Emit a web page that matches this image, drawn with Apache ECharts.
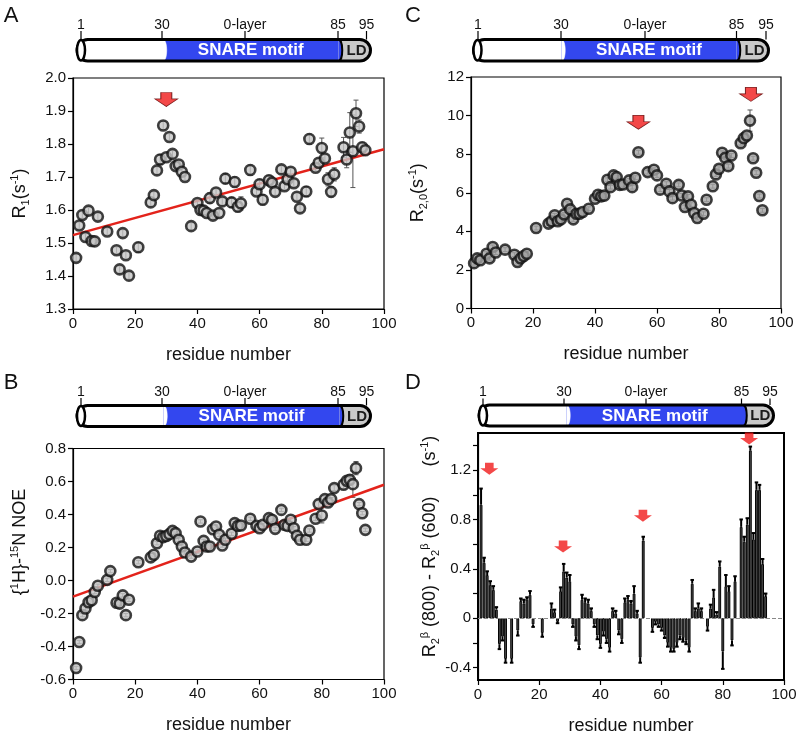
<!DOCTYPE html>
<html><head><meta charset="utf-8">
<script src="https://cdn.jsdelivr.net/npm/echarts@6/dist/echarts.min.js"></script>
<style>html,body{margin:0;padding:0;background:#fff}#c{width:802px;height:740px}</style>
</head><body><div id="c"></div>
<script>
// ---------- DATA ----------
const resA = [1,2,3,4,5,6,7,8,11,14,15,16,17,18,21,25,26,27,28,29,30,31,32,33,34,35,36,38,40,41,42,43,44,45,46,47,48,49,51,52,53,54,57,59,60,61,63,64,65,67,68,69,70,71,72,73,75,76,78,79,80,81,82,83,84,87,88,89,90,91,92,93,94];
const r1 = [1.455,1.553,1.585,1.518,1.598,1.506,1.505,1.58,1.535,1.478,1.42,1.53,1.463,1.401,1.487,1.623,1.645,1.72,1.753,1.856,1.76,1.821,1.77,1.733,1.738,1.716,1.70,1.551,1.621,1.60,1.598,1.591,1.636,1.583,1.653,1.591,1.626,1.695,1.623,1.685,1.61,1.62,1.721,1.656,1.678,1.631,1.69,1.683,1.655,1.723,1.672,1.693,1.716,1.681,1.64,1.605,1.656,1.815,1.728,1.743,1.788,1.756,1.693,1.655,1.708,1.79,1.753,1.835,1.778,1.893,1.853,1.79,1.781];
const errA = [0.01,0.01,0.01,0.01,0.01,0.01,0.01,0.01,0.01,0.01,0.01,0.01,0.01,0.01,0.015,0.01,0.01,0.01,0.015,0.012,0.01,0.01,0.01,0.01,0.01,0.01,0.01,0.01,0.01,0.01,0.01,0.01,0.015,0.01,0.01,0.01,0.01,0.015,0.015,0.015,0.015,0.02,0.015,0.01,0.015,0.015,0.015,0.01,0.01,0.01,0.01,0.01,0.01,0.01,0.01,0.01,0.015,0.015,0.01,0.01,0.03,0.01,0.02,0.015,0.02,0.03,0.025,0.06,0.11,0.04,0.02,0.015,0.01];
const fitA = [[0,1.524],[100,1.784]];

const resB = [1,2,3,4,5,6,7,8,11,12,14,15,16,17,18,21,25,26,27,28,29,30,31,32,33,34,35,36,38,40,41,42,43,44,45,46,47,48,49,51,52,53,54,57,59,60,61,63,64,65,67,68,69,70,71,72,73,75,76,78,79,80,81,82,83,84,87,88,89,90,91,92,93,94];
const noe = [-0.53,-0.373,-0.21,-0.17,-0.132,-0.12,-0.07,-0.032,0.004,0.057,-0.135,-0.14,-0.09,-0.21,-0.117,0.111,0.14,0.156,0.226,0.271,0.263,0.27,0.281,0.301,0.287,0.247,0.206,0.17,0.145,0.176,0.358,0.24,0.206,0.206,0.311,0.327,0.277,0.212,0.247,0.283,0.348,0.331,0.333,0.374,0.331,0.317,0.337,0.378,0.368,0.313,0.428,0.337,0.331,0.368,0.317,0.271,0.247,0.247,0.303,0.374,0.463,0.394,0.493,0.473,0.493,0.56,0.58,0.604,0.61,0.584,0.681,0.463,0.408,0.307];
const errB = [0.01,0.01,0.01,0.01,0.01,0.01,0.01,0.01,0.01,0.01,0.01,0.01,0.01,0.01,0.01,0.01,0.01,0.01,0.01,0.01,0.01,0.01,0.01,0.01,0.01,0.01,0.01,0.01,0.01,0.01,0.01,0.01,0.01,0.01,0.01,0.01,0.01,0.01,0.01,0.01,0.01,0.01,0.01,0.01,0.01,0.01,0.01,0.01,0.01,0.01,0.01,0.01,0.01,0.01,0.01,0.01,0.01,0.01,0.01,0.01,0.02,0.045,0.015,0.02,0.01,0.015,0.025,0.02,0.03,0.08,0.04,0.01,0.01,0.01];
const fitB = [[0,-0.098],[100,0.58]];

const resC = [1,2,3,5,6,7,8,11,14,15,16,17,18,21,25,26,27,28,29,30,31,32,33,34,35,36,38,40,41,42,43,44,45,46,47,48,49,51,52,53,54,57,59,60,61,63,64,65,67,68,69,70,71,72,73,75,76,78,79,80,81,82,83,84,87,88,89,90,91,92,93,94];
const r20 = [2.35,2.6,2.5,2.84,2.6,3.19,2.9,3.05,2.79,2.41,2.6,2.72,2.84,4.17,4.4,4.52,4.83,4.52,4.62,4.88,5.43,5.14,4.62,4.91,4.91,5.0,5.17,5.69,5.9,5.81,5.85,6.67,6.29,6.9,6.81,6.41,6.43,6.64,6.29,6.78,8.1,7.07,7.19,6.9,6.16,6.47,6.07,5.72,6.41,5.86,5.26,5.81,5.38,4.95,4.69,4.91,5.64,6.34,6.95,7.24,8.07,7.81,7.38,7.93,8.57,8.83,8.97,9.74,7.79,7.04,5.83,5.09];
const errC = [0.1,0.1,0.1,0.1,0.1,0.1,0.1,0.1,0.1,0.1,0.1,0.1,0.1,0.1,0.1,0.1,0.1,0.1,0.1,0.1,0.1,0.1,0.1,0.1,0.1,0.1,0.1,0.1,0.1,0.1,0.1,0.1,0.1,0.1,0.1,0.1,0.1,0.1,0.1,0.1,0.1,0.1,0.1,0.1,0.1,0.1,0.1,0.1,0.1,0.1,0.1,0.1,0.1,0.1,0.1,0.1,0.1,0.1,0.1,0.1,0.1,0.1,0.1,0.1,0.1,0.12,0.15,0.55,0.1,0.1,0.1,0.1];

const resD = [1,2,3,4,5,6,7,8,9,11,13,14,15,16,17,18,21,24,25,26,27,28,29,30,31,32,33,34,35,36,37,38,39,40,41,42,43,44,45,46,47,48,49,50,51,52,53,54,57,58,59,60,61,62,63,64,65,66,67,68,69,70,71,72,73,75,76,77,78,79,80,81,82,83,84,86,87,88,89,90,91,92,93,94];
const dR2 = [0.92,0.45,0.35,0.27,0.23,0.07,-0.21,-0.15,-0.33,-0.33,-0.1,0.14,0.12,0.15,0.19,-0.05,-0.12,0.08,0.05,-0.03,0.22,0.38,0.33,0.3,-0.05,-0.15,-0.22,0.15,0.13,0.12,0.06,-0.05,-0.14,-0.21,-0.11,-0.17,-0.24,0.06,0.04,-0.1,-0.17,0.13,0.15,0.12,0.2,0.04,-0.32,0.63,-0.08,-0.03,-0.05,-0.08,-0.14,-0.2,-0.24,-0.25,-0.2,-0.14,-0.16,-0.18,-0.24,0.28,0.06,0.08,0.06,-0.07,0.08,0.17,0.03,0.42,-0.27,0.26,0.22,-0.18,0.3,0.74,0.62,0.76,1.36,0.64,1.04,1.04,0.44,0.18];
const errD = [0.13,0.04,0.03,0.03,0.03,0.02,0.04,0.03,0.03,0.03,0.04,0.02,0.03,0.02,0.03,0.02,0.03,0.04,0.02,0.01,0.03,0.06,0.04,0.05,0.02,0.03,0.03,0.04,0.03,0.03,0.02,0.02,0.03,0.03,0.03,0.03,0.03,0.02,0.02,0.03,0.03,0.03,0.03,0.02,0.06,0.02,0.04,0.03,0.03,0.02,0.02,0.02,0.02,0.03,0.03,0.02,0.03,0.03,0.03,0.03,0.03,0.03,0.02,0.04,0.02,0.03,0.03,0.06,0.02,0.04,0.14,0.09,0.04,0.04,0.04,0.06,0.04,0.05,0.03,0.05,0.06,0.04,0.04,0.02];

const arrowsA = [[30,1.935]];
const arrowsC = [[54,9.65],[90.3,11.1]];
const arrowsD = [[3.7,1.21],[27.8,0.58],[53.9,0.83],[88.6,1.455]];

const xTicks = [0,20,40,60,80,100];
const dTickVals = [-0.4,-0.2,0,0.2,0.4,0.6,0.8,1.0,1.2,1.4];
const dLabelVals = [-0.4,0,0.4,0.8,1.2];
const domainLabels = ['1','30','0-layer','85','95'];

// ---------- STYLE / BUILD ----------
const FONT = "'Liberation Sans', Arial, Helvetica, sans-serif";
const chart = echarts.init(document.getElementById('c'), null, {renderer:'canvas'});

const zip3 = (xs, ys, es) => xs.map((x,i)=>[x, ys[i], es[i]]);

function errItem(cfg){
  return function(params, api){
    const x = api.value(0), y = api.value(1), e = api.value(2);
    let y1, y2;
    if (cfg.outward){ y1 = y; y2 = y >= 0 ? y + e : y - e; }
    else { y1 = y - e; y2 = y + e; }
    const p1 = api.coord([x,y1]), p2 = api.coord([x,y2]);
    const st = {stroke: cfg.color, lineWidth: cfg.lw};
    const ch = [
      {type:'line', shape:{x1:p1[0],y1:p1[1],x2:p2[0],y2:p2[1]}, style:st},
      {type:'line', shape:{x1:p2[0]-cfg.cap/2,y1:p2[1],x2:p2[0]+cfg.cap/2,y2:p2[1]}, style:st}
    ];
    if (!cfg.outward) ch.push({type:'line', shape:{x1:p1[0]-cfg.cap/2,y1:p1[1],x2:p1[0]+cfg.cap/2,y2:p1[1]}, style:st});
    return {type:'group', children:ch};
  };
}

const axisCommon = {
  axisLine:{show:true, onZero:false, lineStyle:{color:'#000', width:1.2}},
  axisTick:{show:true, inside:false, length:5, lineStyle:{color:'#000', width:1.2}},
  splitLine:{show:false},
  axisLabel:{color:'#111', fontSize:15, fontFamily:FONT, margin:7}
};

const grids = [
  {left:73, top:78, width:311, height:231},
  {left:73, top:448.5, width:311, height:231},
  {left:471, top:77, width:310, height:231.5},
  {left:478, top:433, width:306, height:247}
].map((g,i)=>Object.assign({show:true, borderColor:'#000', borderWidth: i===3 ? 2 : 1.2, backgroundColor:'transparent'}, g));

const xAxes = [0,1,2,3].map(i => Object.assign({}, axisCommon, {
  type:'value', gridIndex:i, min:xTicks[0], max:xTicks[xTicks.length-1], interval:xTicks[1]-xTicks[0],
  name:'residue number', nameLocation:'middle', nameGap:37,
  nameTextStyle:{fontSize:18, color:'#111', fontFamily:FONT}
}));

const richBase = {
  n:{fontSize:18, fontFamily:FONT, color:'#111', verticalAlign:'middle', lineHeight:22},
  sub:{fontSize:11, fontFamily:FONT, color:'#111', verticalAlign:'bottom', lineHeight:22},
  sup:{fontSize:11, fontFamily:FONT, color:'#111', verticalAlign:'top', lineHeight:22}
};
function yName(txt, gap, pad){
  return {name:txt, nameLocation:'middle', nameGap:gap, nameRotate:90,
    nameTextStyle:{fontSize:18, color:'#111', fontFamily:FONT, rich:richBase, padding:pad||0}};
}

const yAxes = [
  Object.assign({}, axisCommon, {type:'value', gridIndex:0, min:1.3, max:2.0, interval:0.1,
    axisLabel:Object.assign({}, axisCommon.axisLabel, {formatter:v=>v.toFixed(1)})},
    yName('{n|R}{sub|1}{n|(s}{sup|-1}{n|)}', 42)),
  Object.assign({}, axisCommon, {type:'value', gridIndex:1, min:-0.6, max:0.8, interval:0.2,
    axisLabel:Object.assign({}, axisCommon.axisLabel, {formatter:v=>v.toFixed(1)})},
    yName('{n|{}{sup|1}{n|H}}{n|-}{sup|15}{n|N NOE}', 42, [0,0,0,44])),
  Object.assign({}, axisCommon, {type:'value', gridIndex:2, min:0, max:12, interval:2},
    yName('{n|R}{sub|2,0}{n|(s}{sup|-1}{n|)}', 42)),
  Object.assign({}, axisCommon, {type:'value', gridIndex:3, min:-0.5, max:1.5,
    axisTick:Object.assign({}, axisCommon.axisTick, {customValues:dTickVals}),
    axisLabel:Object.assign({}, axisCommon.axisLabel, {customValues:dLabelVals, formatter:v=> Math.abs(v)<1e-9 ? '0' : v.toFixed(1)})},
    yName('{n|R}{sub|2}{sup|β}{n| (800) - R}{sub|2}{sup|β}{n| (600)      (s}{sup|-1}{n|)}', 36, [0,0,0,20]))
];

const markerStyle = {color:'#c4c4c4', borderColor:'#111', borderWidth:2.6};
const arrowPath = 'path://M6,0L17,0L17,6L23,6L11.5,13L0,6L6,6Z';

function scatterSet(idx, xs, ys, es, fit, fill){
  const out = [];
  out.push({type:'custom', xAxisIndex:idx, yAxisIndex:idx, silent:true, z:2,
    renderItem: errItem({outward:false, cap:5, lw:1, color:'#555'}),
    encode:{x:0,y:1}, data: zip3(xs,ys,es)});
  if (fit) out.push({type:'line', xAxisIndex:idx, yAxisIndex:idx, data:fit, symbol:'none', silent:true, z:3,
    lineStyle:{color:'#e3231b', width:2.5}});
  out.push({type:'scatter', xAxisIndex:idx, yAxisIndex:idx, symbol:'circle', symbolSize:10, z:4,
    itemStyle:Object.assign({}, markerStyle, {color:fill}), data: xs.map((x,i)=>[x, ys[i]])});
  return out;
}

const series = [].concat(
  scatterSet(0, resA, r1, errA, fitA, '#c6c6c6'),
  scatterSet(1, resB, noe, errB, fitB, '#c6c6c6'),
  scatterSet(2, resC, r20, errC, null, '#a4a4a4'),
  [
    {type:'scatter', xAxisIndex:0, yAxisIndex:0, symbol:arrowPath, symbolSize:[23,14], symbolKeepAspect:false, z:6,
      itemStyle:{color:'#f01a1a', borderColor:'#5a0000', borderWidth:0.8}, data:arrowsA},
    {type:'scatter', xAxisIndex:2, yAxisIndex:2, symbol:arrowPath, symbolSize:[23,14], symbolKeepAspect:false, z:6,
      itemStyle:{color:'#f01a1a', borderColor:'#5a0000', borderWidth:0.8}, data:arrowsC},
    {type:'bar', xAxisIndex:3, yAxisIndex:3, barWidth:2.8, z:3,
      itemStyle:{color:'#505050', borderColor:'#000', borderWidth:1},
      data: resD.map((x,i)=>[x, dR2[i]]),
      markLine:{silent:true, symbol:'none', label:{show:false}, animation:false,
        lineStyle:{color:'#888', type:'dashed', width:1}, data:[{yAxis:0}]}},
    {type:'custom', xAxisIndex:3, yAxisIndex:3, silent:true, z:4,
      renderItem: errItem({outward:true, cap:3.5, lw:2, color:'#000'}),
      encode:{x:0,y:1}, data: zip3(resD, dR2, errD)},
    {type:'scatter', xAxisIndex:3, yAxisIndex:3, symbol:arrowPath, symbolSize:[18,12], symbolKeepAspect:false, z:6,
      itemStyle:{color:'#f01a1a'}, data:arrowsD}
  ]
);

// ---------- domain diagrams ----------
function domain(x0, x1, y0, h, b30, b85, lx, ly){
  const cy = y0 + h/2, els = [];
  els.push({type:'rect', shape:{x:x0, y:y0, width:b30-x0, height:h}, style:{fill:'#fff'}});
  els.push({type:'rect', shape:{x:b30, y:y0, width:b85-b30, height:h}, style:{fill:'#3347ef'}});
  els.push({type:'bezierCurve', shape:{x1:b30, y1:y0, x2:b30, y2:y0+h, cpx1:b30+5, cpy1:y0, cpx2:b30+5, cpy2:y0+h},
    style:{fill:'#fff', stroke:'#fff', lineWidth:0.5}});
  els.push({type:'rect', shape:{x:b85, y:y0, width:x1-b85, height:h, r:[0,h/2,h/2,0]}, style:{fill:'#c9c9c9'}});
  els.push({type:'bezierCurve', shape:{x1:b85, y1:y0, x2:b85, y2:y0+h, cpx1:b85+5, cpy1:y0, cpx2:b85+5, cpy2:y0+h},
    style:{fill:'#3347ef', stroke:'#000', lineWidth:2}});
  els.push({type:'rect', shape:{x:x0, y:y0, width:x1-x0, height:h, r:[h/2,h/2,h/2,h/2]},
    style:{fill:null, stroke:'#000', lineWidth:3}});
  els.push({type:'ellipse', shape:{cx:x0+4, cy:cy, rx:4, ry:h/2-0.5}, style:{fill:'#fff', stroke:'#000', lineWidth:2.5}});
  els.push({type:'text', x:(b30+b85)/2, y:cy+0.5, style:{text:'SNARE motif', fill:'#fff', font:'bold 17px '+FONT,
    align:'center', verticalAlign:'middle', textAlign:'center', textVerticalAlign:'middle'}});
  els.push({type:'text', x:(b85+x1)/2+2, y:cy+0.5, style:{text:'LD', fill:'#1a1a1a', font:'bold 15px '+FONT,
    align:'center', verticalAlign:'middle', textAlign:'center', textVerticalAlign:'middle'}});
  lx.forEach((x,i)=>{
    els.push({type:'line', shape:{x1:x, y1:ly+6, x2:x, y2:y0}, style:{stroke:'#000', lineWidth:1.2}});
    els.push({type:'text', x:x, y:ly, style:{text:domainLabels[i], fill:'#111', font:'14px '+FONT,
      align:'center', verticalAlign:'middle', textAlign:'center', textVerticalAlign:'middle'}});
  });
  return els;
}
function letter(t, x, y){
  return {type:'text', x:x, y:y, style:{text:t, fill:'#111', font:'22px '+FONT, align:'center', verticalAlign:'middle',
    textAlign:'center', textVerticalAlign:'middle'}};
}

const graphics = [].concat(
  domain(77, 370.5, 39.5, 21.5, 163, 338.5, [81,162,245,338,366.5], 25),
  domain(77, 370.5, 405.5, 21, 163.5, 339.5, [81,162,245,338,366.5], 392),
  domain(473.5, 768.5, 39.5, 21.5, 561.5, 736.5, [478,561,645,736.5,766], 25),
  domain(479, 773.5, 405, 21, 566.5, 743, [483,564,646,741.5,770], 392.5),
  [letter('A',11,16), letter('B',11,383), letter('C',413,16), letter('D',413,383)]
);

chart.setOption({
  animation:false,
  backgroundColor:'#fff',
  textStyle:{fontFamily:FONT},
  grid:grids, xAxis:xAxes, yAxis:yAxes, series:series,
  graphic:{elements:graphics}
});
</script></body></html>
